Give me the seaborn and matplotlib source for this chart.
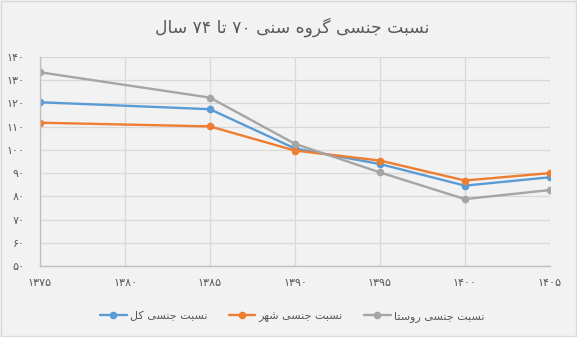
import matplotlib
matplotlib.use("Agg")
import matplotlib.pyplot as plt
import seaborn as sns
import pandas as pd

# ---- data ----
years = [1375, 1385, 1390, 1395, 1400, 1405]
total = [120.5, 117.5, 100.6, 93.9, 84.6, 88.2]
urban = [111.7, 110.1, 99.7, 95.4, 86.8, 90.0]
rural = [133.4, 122.5, 102.6, 90.3, 78.8, 82.7]
series_names = ["نسبت جنسی کل", "نسبت جنسی شهر", "نسبت جنسی روستا"]
title_text = "نسبت جنسی گروه سنی ۷۰ تا ۷۴ سال"
x_ticks = [1375, 1380, 1385, 1390, 1395, 1400, 1405]
y_ticks = [50, 60, 70, 80, 90, 100, 110, 120, 130, 140]
colors = ["#5B9BD5", "#ED7D31", "#A5A5A5"]

# ---- minimal Persian shaping / bidi for matplotlib ----
FORMS = {  # isolated, final, initial, medial
    "ا": ("\uFE8D", "\uFE8E", None, None),
    "ب": ("\uFE8F", "\uFE90", "\uFE91", "\uFE92"),
    "ت": ("\uFE95", "\uFE96", "\uFE97", "\uFE98"),
    "ج": ("\uFE9D", "\uFE9E", "\uFE9F", "\uFEA0"),
    "ر": ("\uFEAD", "\uFEAE", None, None),
    "س": ("\uFEB1", "\uFEB2", "\uFEB3", "\uFEB4"),
    "ش": ("\uFEB5", "\uFEB6", "\uFEB7", "\uFEB8"),
    "ل": ("\uFEDD", "\uFEDE", "\uFEDF", "\uFEE0"),
    "ن": ("\uFEE5", "\uFEE6", "\uFEE7", "\uFEE8"),
    "ه": ("\uFEE9", "\uFEEA", "\uFEEB", "\uFEEC"),
    "و": ("\uFEED", "\uFEEE", None, None),
    "ک": ("\uFB8E", "\uFB8F", "\uFB90", "\uFB91"),
    "گ": ("\uFB92", "\uFB93", "\uFB94", "\uFB95"),
    "ی": ("\uFBFC", "\uFBFD", "\uFBFE", "\uFBFF"),
}


def shape_word(w):
    out = []
    n = len(w)
    for i, c in enumerate(w):
        if c not in FORMS:
            out.append(c)
            continue
        f = FORMS[c]
        prev = w[i - 1] if i > 0 else None
        nxt = w[i + 1] if i < n - 1 else None
        join_prev = prev in FORMS and FORMS[prev][2] is not None
        join_next = nxt in FORMS and f[2] is not None
        if join_prev and join_next:
            out.append(f[3])
        elif join_prev:
            out.append(f[1])
        elif join_next:
            out.append(f[2])
        else:
            out.append(f[0])
    return "".join(out)


def fa_visual(s):
    words = s.split(" ")
    vis = []
    for w in reversed(words):
        if any(ch in FORMS for ch in w):
            vis.append(shape_word(w)[::-1])
        else:
            vis.append(w)
    return " ".join(vis)


FA_DIGITS = "۰۱۲۳۴۵۶۷۸۹"


def fa_num(n):
    return "".join(FA_DIGITS[int(d)] for d in str(n))


# ---- plot ----
sns.set_theme(style="whitegrid")
plt.rcParams["font.family"] = ["DejaVu Sans"]

df = pd.DataFrame({
    "year": years * 3,
    "value": total + urban + rural,
    "series": [series_names[0]] * 6 + [series_names[1]] * 6 + [series_names[2]] * 6,
})

fig = plt.figure(figsize=(5.77, 3.37), dpi=100, facecolor="#F2F2F2")
ax = fig.add_axes([0.0693, 0.2107, 0.8837, 0.6203])
ax.set_facecolor("#F2F2F2")

for name, col in zip(series_names, colors):
    sub = df[df["series"] == name]
    sns.lineplot(data=sub, x="year", y="value", ax=ax, color=col, linewidth=1.7,
                 marker="o", markersize=5.5, markeredgewidth=0,
                 label=fa_visual(name))

ax.set_xlim(1375, 1405)
ax.set_ylim(50, 140)
ax.set_xticks(x_ticks)
ax.set_xticklabels([fa_num(v) for v in x_ticks])
ax.set_yticks(y_ticks)
ax.set_yticklabels([fa_num(v) for v in y_ticks])
ax.set_xlabel("")
ax.set_ylabel("")
ax.grid(True, color="#D9D9D9", linewidth=0.9)
ax.tick_params(axis="both", length=0, labelsize=8, labelcolor="#595959")
ax.tick_params(axis="y", pad=11)
ax.tick_params(axis="x", pad=9)
for side in ["top", "right"]:
    ax.spines[side].set_visible(False)
for side in ["left", "bottom"]:
    ax.spines[side].set_color("#BFBFBF")
    ax.spines[side].set_linewidth(1.0)

fig.text(0.507, 0.92, fa_visual(title_text), ha="center", va="center",
         fontsize=12.3, color="#595959")

leg = ax.legend(loc="center", bbox_to_anchor=(0.495, -0.24), ncol=3, frameon=False,
                fontsize=8, handlelength=2.4, columnspacing=1.9, handletextpad=0.3)
for t in leg.get_texts():
    t.set_color("#595959")

border = plt.Rectangle((0.001, 0.002), 0.997, 0.995, transform=fig.transFigure,
                       fill=False, edgecolor="#D9D9D9", linewidth=1.0)
fig.patches.append(border)

fig.savefig("out.png", dpi=100, facecolor=fig.get_facecolor())
